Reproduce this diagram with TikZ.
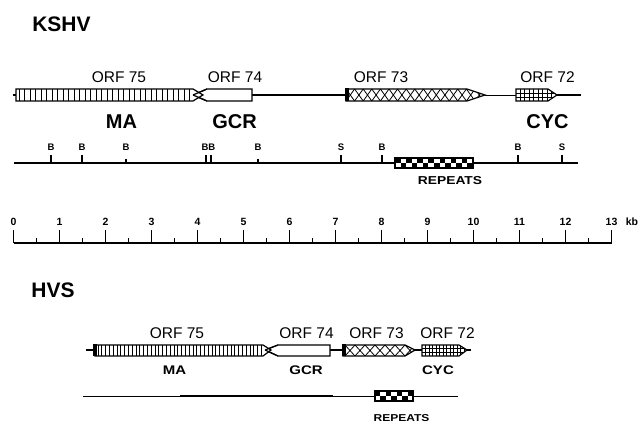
\documentclass[tikz,border=0pt]{standalone}
\usepackage{fontspec}
\setmainfont{Liberation Sans}
\newfontfamily\widefont[FakeStretch=1.2]{Liberation Sans}
\begin{document}
\begin{tikzpicture}[x=1pt,y=-1pt,line join=miter,
  gene/.style={line width=1.6pt},
  orfbox/.style={draw,line width=1.2pt,fill=white},
  outline/.style={line width=1.2pt},
  hatch/.style={line width=1pt},
  fine/.style={line width=0.8pt},
  orflabel/.style={font=\fontsize{15.5}{16}\selectfont},
  biglabel/.style={font=\fontsize{20}{20}\selectfont\bfseries},
  smalllabel/.style={font=\widefont\fontsize{12.5}{13}\selectfont\bfseries},
  titlelabel/.style={font=\fontsize{21}{21}\selectfont\bfseries},
  sitelabel/.style={font=\fontsize{9.5}{10}\selectfont\bfseries},
  numlabel/.style={font=\fontsize{10.5}{11}\selectfont\bfseries},
  replabel/.style={font=\widefont\fontsize{11.5}{12}\selectfont\bfseries},
  sitetick/.style={line width=1.2pt}]
\useasboundingbox (0,0) rectangle (641,425);

%================ KSHV =================
\node[titlelabel] (kshv) at (61.5,24) {KSHV};

% gene line
\draw[gene] (13,95) -- (346,95);
\draw[line width=0.8pt] (485,95) -- (516,95);
\draw[gene] (557,95) -- (581,95);

% ORF 74 (points left)
\draw[orfbox] (193,95) -- (207,89) -- (252,89) -- (252,101) -- (207,101) -- cycle;
% ORF 75 (points right)
\fill[white] (16,89) -- (193,89) -- (203,95) -- (193,101) -- (16,101) -- cycle;
\begin{scope}
  \clip (16,89) rectangle (193,101);
  \foreach \x in {19,24.5,...,193} \draw[hatch] (\x,89) -- (\x,101);
\end{scope}
\draw[outline] (16,89) -- (193,89) -- (203,95) -- (193,101) -- (16,101) -- cycle;
\draw[outline] (193,95) -- (207,89) (193,95) -- (207,101);

% ORF 73 (diamonds)
\fill[white] (346,89) -- (467,89) -- (485,95) -- (467,101) -- (346,101) -- cycle;
\begin{scope}
  \clip (346,89) -- (467,89) -- (485,95) -- (467,101) -- (346,101) -- cycle;
  \foreach \x in {0,...,16} {
    \draw[fine] (346+8.6*\x,89) -- (346+8.6*\x+8.6,101);
    \draw[fine] (346+8.6*\x,101) -- (346+8.6*\x+8.6,89);
  }
\end{scope}
\draw[outline] (346,89) -- (467,89) -- (485,95) -- (467,101) -- (346,101) -- cycle;
\fill (345,88.5) rectangle (349,101.5);

% ORF 72 (grid)
\fill[white] (516,89) -- (548,89) -- (557,95) -- (548,101) -- (516,101) -- cycle;
\begin{scope}
  \clip (516,89) -- (548,89) -- (557,95) -- (548,101) -- (516,101) -- cycle;
  \foreach \x in {520,524.5,...,552} \draw[fine] (\x,89) -- (\x,101);
  \draw[fine] (516,93) -- (557,93) (516,97) -- (557,97);
\end{scope}
\draw[outline] (516,89) -- (548,89) -- (557,95) -- (548,101) -- (516,101) -- cycle;

% labels
\node[orflabel] (k75) at (119,77) {ORF 75};
\node[orflabel] (k74) at (235,77) {ORF 74};
\node[orflabel] (k73) at (381,77) {ORF 73};
\node[orflabel] (k72) at (547.5,77) {ORF 72};
\node[biglabel] (kma) at (121.5,122) {MA};
\node[biglabel] (kgcr) at (234.5,122) {GCR};
\node[biglabel] (kcyc) at (547.5,122) {CYC};

% restriction map
\draw[line width=1.3pt] (14,163) -- (578,163);
\foreach \x/\l/\t in {51/B/155,82/B/155,126/B/159,258/B/159,341/S/155,382/B/155,518/B/155,562/S/155} {
  \draw[sitetick] (\x,\t) -- (\x,163);
  \node[sitelabel] (site\x) at (\x,147.5) {\l};
}
\draw[sitetick] (206,155) -- (206,163) (211,155) -- (211,163);
\node[sitelabel,inner sep=0pt] (siteBB) at (208.5,147.5) {BB};

% repeats
\fill[white] (395,158) rectangle (473,168);
\foreach \i in {0,2,...,12} \fill (395+\i*5.571,158) rectangle ++(5.571,5);
\foreach \i in {1,3,...,13} \fill (395+\i*5.571,163) rectangle ++(5.571,5);
\draw[line width=1.5pt] (395,158) rectangle (473,168);
\node[replabel] (krep) at (450,181) {REPEATS};

% scale bar
\draw[line width=1.8pt] (13.5,243) -- (611.5,243);
\foreach \k in {0,...,13} {
  \draw[line width=1.3pt] (13.5+46*\k,230.5) -- (13.5+46*\k,243);
  \node[numlabel] (n\k) at (13.5+46*\k,222) {\k};
}
\foreach \k in {0,...,12} \draw[line width=1.3pt] (36.5+46*\k,238.5) -- (36.5+46*\k,243);
\node[numlabel] (kb) at (632,222) {kb};

%================ HVS =================
\node[titlelabel] (hvs) at (53,290) {HVS};

\draw[gene] (86,350) -- (343,350);
\draw[gene] (413,350) -- (422,350);
\draw[gene] (466,350) -- (471,350);

% ORF 74
\draw[orfbox] (265,350) -- (278,345) -- (330,345) -- (330,356) -- (278,356) -- cycle;
% ORF 75
\fill[white] (95,345) -- (263,345) -- (271,350) -- (263,356) -- (95,356) -- cycle;
\begin{scope}
  \clip (95,345) rectangle (263,356);
  \foreach \x in {98,101.8,...,263} \draw[fine] (\x,345) -- (\x,356);
\end{scope}
\draw[outline] (95,345) -- (263,345) -- (271,350) -- (263,356) -- (95,356) -- cycle;
\draw[outline] (265,350) -- (278,345) (265,350) -- (278,356);
\fill (93,344.5) rectangle (96.5,356.5);

% ORF 73
\fill[white] (343,345) -- (405,345) -- (415,350) -- (405,356) -- (343,356) -- cycle;
\begin{scope}
  \clip (343,345) -- (405,345) -- (415,350) -- (405,356) -- (343,356) -- cycle;
  \foreach \x in {0,...,7} {
    \draw[fine] (345+10*\x,345) -- (355+10*\x,356);
    \draw[fine] (345+10*\x,356) -- (355+10*\x,345);
  }
\end{scope}
\draw[outline] (343,345) -- (405,345) -- (415,350) -- (405,356) -- (343,356) -- cycle;
\fill (342,344.5) rectangle (345.5,356.5);

% ORF 72
\fill[white] (422,345) -- (459,345) -- (467,350) -- (459,356) -- (422,356) -- cycle;
\begin{scope}
  \clip (422,345) -- (459,345) -- (467,350) -- (459,356) -- (422,356) -- cycle;
  \foreach \x in {425.5,429,...,466} \draw[fine] (\x,345) -- (\x,356);
  \draw[fine] (422,348.7) -- (467,348.7) (422,352.3) -- (467,352.3);
\end{scope}
\draw[outline] (422,345) -- (459,345) -- (467,350) -- (459,356) -- (422,356) -- cycle;

% labels
\node[orflabel] (h75) at (177,333) {ORF 75};
\node[orflabel] (h74) at (306.5,333) {ORF 74};
\node[orflabel] (h73) at (376.5,333) {ORF 73};
\node[orflabel] (h72) at (447.5,333) {ORF 72};
\node[smalllabel] (hma) at (174.5,370) {MA};
\node[smalllabel] (hgcr) at (306,370) {GCR};
\node[smalllabel] (hcyc) at (438,370) {CYC};

% restriction line
\draw[line width=1pt] (83,396) -- (458,396);
\draw[line width=2pt] (180,396) -- (333,396);
\fill[white] (375,391) rectangle (413,401);
\foreach \i in {0,2,...,6} \fill (375+\i*5.4286,391) rectangle ++(5.4286,5);
\foreach \i in {1,3,5} \fill (375+\i*5.4286,396) rectangle ++(5.4286,5);
\draw[line width=1.5pt] (375,391) rectangle (413,401);
\node[replabel,font=\widefont\fontsize{10}{10}\selectfont\bfseries] (hrep) at (401.5,418) {REPEATS};
\end{tikzpicture}
\end{document}
